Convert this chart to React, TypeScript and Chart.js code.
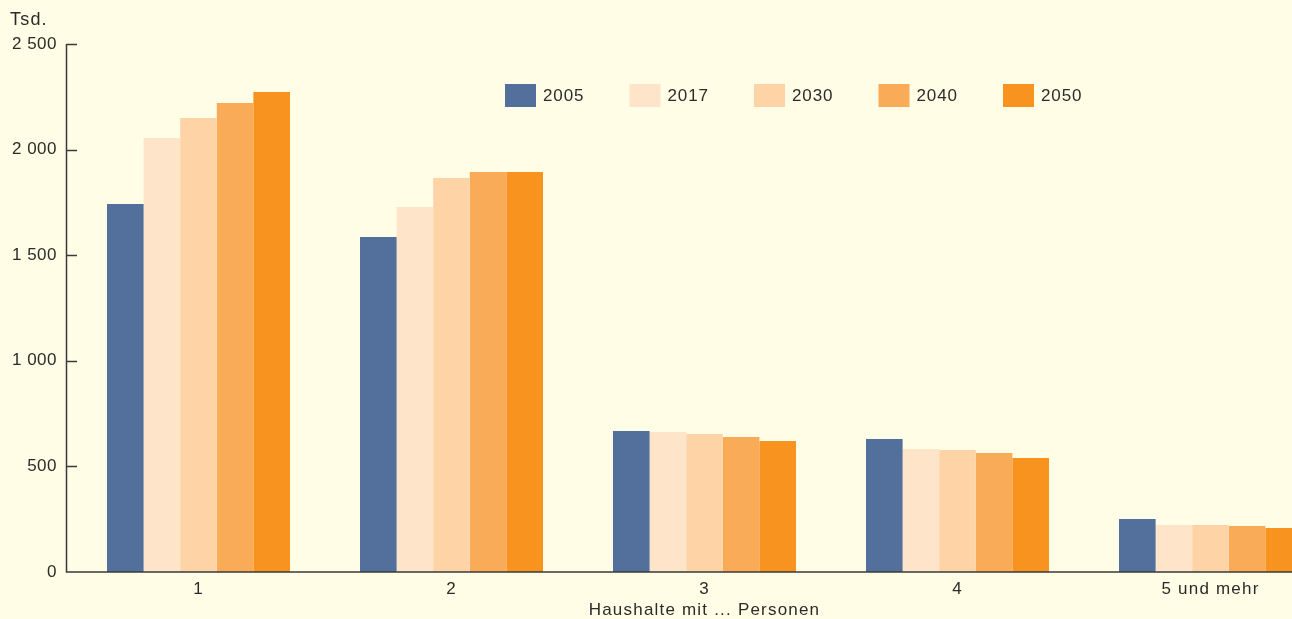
import React, { useEffect, useRef } from "react";
import { Chart, registerables } from "chart.js";

Chart.register(...registerables);

const categories = ["1", "2", "3", "4", "5 und mehr"];
const seriesLabels = ["2005", "2017", "2030", "2040", "2050"];
const values2005 = [1742, 1586, 668, 630, 251];
const values2017 = [2055, 1728, 663, 582, 222];
const values2030 = [2150, 1866, 653, 578, 222];
const values2040 = [2221, 1894, 639, 563, 218];
const values2050 = [2273, 1894, 620, 540, 208];
const yTicks = [0, 500, 1000, 1500, 2000, 2500];
const colors = ["#536f9c", "#fee4c9", "#fed3a6", "#f9ab58", "#f7931e"];

const BG = "#fffde6";
const TEXT = "#2b2b2b";
const FONT = "'Liberation Sans', Arial, sans-serif";

const fmt = (v: number) => String(v).replace(/\B(?=(\d{3})+(?!\d))/g, " ");

const customPlugin = {
  id: "customDecor",
  beforeDraw(chart: any) {
    (chart.ctx as any).letterSpacing = "1.2px";
    const ys = chart.scales.y;
    if (ys && !ys.__patched) {
      const orig = ys.drawLabels;
      ys.drawLabels = function (area: any) {
        const c: any = this.ctx;
        const prev = c.letterSpacing;
        c.letterSpacing = "0.5px";
        orig.call(this, area);
        c.letterSpacing = prev;
      };
      ys.__patched = true;
    }
  },
  afterDraw(chart: any) {
    const ctx: any = chart.ctx;
    const ys = chart.scales.y;
    ctx.save();
    ctx.strokeStyle = "#3a3a3a";
    ctx.lineWidth = 1.5;
    const ax = 66.5;
    const y0 = ys.getPixelForValue(0);
    const yTop = ys.getPixelForValue(2500);
    ctx.beginPath();
    ctx.moveTo(ax, yTop);
    ctx.lineTo(ax, y0);
    ctx.lineTo(chart.width, y0);
    ctx.stroke();
    yTicks.forEach((t) => {
      if (t === 0) return;
      const py = Math.round(ys.getPixelForValue(t)) + 0.5;
      ctx.beginPath();
      ctx.moveTo(ax, py);
      ctx.lineTo(77, py);
      ctx.stroke();
    });
    ctx.fillStyle = TEXT;
    ctx.textBaseline = "middle";
    ctx.textAlign = "left";
    ctx.letterSpacing = "1.2px";
    ctx.font = `18px ${FONT}`;
    ctx.fillText("Tsd.", 10, 20);
    // legend
    ctx.font = `17px ${FONT}`;
    ctx.letterSpacing = "0.9px";
    chart.data.datasets.forEach((ds: any, i: number) => {
      const bx = 505 + i * 124.5;
      ctx.fillStyle = ds.backgroundColor;
      ctx.fillRect(bx, 84, 31, 23);
      ctx.fillStyle = TEXT;
      ctx.fillText(ds.label, bx + 38, 96);
    });
    ctx.restore();
  },
};

export default function App() {
  const ref = useRef<HTMLCanvasElement>(null);
  useEffect(() => {
    if (!ref.current) return;
    const all = [values2005, values2017, values2030, values2040, values2050];
    const chart = new Chart(ref.current, {
      type: "bar",
      data: {
        labels: categories,
        datasets: all.map((d, i) => ({
          label: seriesLabels[i],
          data: d,
          backgroundColor: colors[i],
          borderWidth: 0,
          categoryPercentage: 0.7233,
          barPercentage: 1.0,
        })),
      },
      options: {
        animation: false,
        responsive: false,
        maintainAspectRatio: false,
        layout: { padding: { top: 44, left: 0, right: 3, bottom: 0 } },
        plugins: { legend: { display: false }, tooltip: { enabled: false } },
        scales: {
          x: {
            grid: { display: false, drawTicks: false },
            border: { display: false },
            ticks: { color: TEXT, font: { size: 17, family: FONT }, padding: 7, maxRotation: 0 },
            title: {
              display: true,
              text: "Haushalte mit ... Personen",
              color: TEXT,
              font: { size: 17, family: FONT, lineHeight: 1.2 },
              padding: { top: 0, bottom: -2 },
            },
            afterFit: (s: any) => {
              s.height = 47;
            },
          },
          y: {
            min: 0,
            max: 2500,
            grid: { display: false, drawTicks: false },
            border: { display: false },
            ticks: {
              stepSize: 500,
              color: TEXT,
              font: { size: 17, family: FONT },
              padding: 15,
              callback: (v: any) => fmt(Number(v)),
            },
            afterFit: (s: any) => {
              s.width = 72;
            },
          },
        },
      },
      plugins: [customPlugin],
    });
    return () => chart.destroy();
  }, []);
  return (
    <div
      style={{
        position: "absolute",
        left: 0,
        top: 0,
        width: 1292,
        height: 619,
        overflow: "hidden",
        background: BG,
      }}
    >
      <canvas ref={ref} width={1340} height={619} style={{ display: "block" }} />
    </div>
  );
}
